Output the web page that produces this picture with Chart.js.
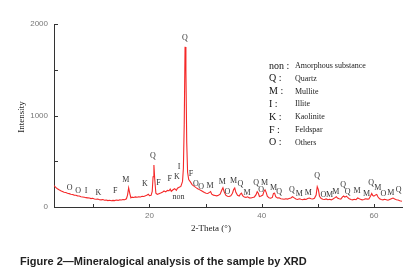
<!DOCTYPE html>
<html>
<head>
<meta charset="utf-8">
<script src="https://cdn.jsdelivr.net/npm/chart.js@4.4.1/dist/chart.umd.min.js"></script>
<style>
  html, body { margin: 0; padding: 0; background: #fff; }
  #wrap { width: 406px; height: 280px; position: relative; }
</style>
</head>
<body>
<div id="wrap"><canvas id="xrdChart" width="406" height="280"></canvas></div>
<script>
// 2-theta positions and intensity
const twoTheta = [
 3.0,3.3,3.6,3.9,4.2,4.5,4.8,5.1,5.4,5.7,6.0,6.3,6.6,6.9,7.2,7.5,7.8,8.1,8.4,8.7,
 9.0,9.3,9.6,9.9,10.2,10.5,10.8,11.1,11.4,11.7,12.0,12.3,12.6,12.9,13.2,13.5,13.8,14.1,14.4,14.7,
 15.0,15.3,15.6,15.9,16.1,16.3,16.5,16.7,16.9,17.2,17.5,17.8,18.1,18.4,18.7,19.0,19.3,19.6,19.8,20.0,
 20.3,20.5,20.65,20.8,20.95,21.15,21.4,21.7,22.0,22.3,22.6,22.9,23.2,23.5,23.7,23.9,24.2,24.5,24.8,25.0,
 25.3,25.6,25.9,26.05,26.2,26.35,26.5,26.65,26.8,27.0,27.3,27.6,28.0,28.3,28.6,28.9,29.2,29.5,29.8,30.1,
 30.4,30.7,30.9,31.1,31.4,31.7,32.0,32.3,32.6,32.9,33.1,33.3,33.6,33.9,34.2,34.5,34.8,35.0,35.2,35.4,
 35.7,36.0,36.2,36.4,36.6,36.9,37.2,37.5,37.8,38.1,38.4,38.7,39.0,39.2,39.4,39.6,39.9,40.2,40.4,40.6,
 40.8,41.0,41.3,41.6,41.9,42.1,42.3,42.5,42.8,43.1,43.4,43.7,44.0,44.3,44.6,44.9,45.2,45.5,45.8,46.1,
 46.4,46.7,47.0,47.3,47.6,47.9,48.2,48.5,48.8,49.1,49.4,49.7,49.9,50.1,50.3,50.6,50.9,51.2,51.5,51.8,
 52.1,52.4,52.7,53.0,53.3,53.5,53.8,54.1,54.4,54.6,54.8,55.1,55.3,55.6,55.9,56.2,56.5,56.8,57.1,57.3,
 57.6,57.9,58.2,58.5,58.8,59.1,59.4,59.6,59.8,60.0,60.3,60.5,60.7,61.0,61.3,61.6,61.9,62.2,62.5,62.8,
 63.1,63.4,63.7,64.0,64.3,64.6,65.0
];
const intensity = [
 235,215,200,188,178,170,162,158,150,146,140,136,130,128,122,120,112,110,106,102,
 100,98,92,95,88,85,88,80,78,82,74,76,70,74,68,72,70,76,72,78,
 76,82,80,90,130,210,150,100,108,104,110,106,112,110,118,115,122,132,140,125,
 128,170,330,460,300,150,138,145,152,160,175,165,182,178,195,172,188,200,182,205,
 215,225,280,420,900,1750,1500,700,380,300,275,245,225,212,200,190,180,170,158,150,
 148,160,168,140,130,126,122,128,140,185,210,170,130,118,115,122,150,190,208,160,
 128,120,140,152,125,110,105,112,100,98,104,110,135,168,150,115,120,130,170,188,
 160,118,100,96,105,148,152,112,98,100,90,88,85,90,86,92,98,112,100,88,
 82,90,84,80,86,82,92,98,90,88,95,130,222,190,118,92,85,82,88,80,
 84,78,88,100,112,98,90,86,110,120,108,118,106,90,82,78,84,80,98,92,
 84,78,82,90,86,88,120,148,125,118,132,138,112,90,82,78,84,80,74,82,
 90,98,88,80,76,68,62
];

// phase labels above the peaks (2-theta, intensity)
const peakText = ['O','O','I','K','F','M','K','Q','F','F','K','I','non','Q','F','O','O','M','M','O','M','Q','M','Q','O','M',
  'M','Q','Q','M','M','Q','O','M','M','Q','Q','M','M','Q','M','O','M','Q'];
const peakX = [5.8,7.3,8.7,10.9,13.9,15.8,19.2,20.6,21.6,23.6,24.9,25.3,25.2,26.3,27.4,28.3,29.2,30.8,33.0,33.9,35.0,36.2,37.4,39.0,39.9,40.5,
  42.1,43.1,45.4,46.7,48.3,49.9,51.0,52.1,53.2,54.5,55.3,57.0,58.7,59.5,60.7,61.7,63.0,64.4];
const peakY = [211,178,178,150,175,295,248,557,266,303,331,440,113,1847,357,251,222,230,277,167,284,248,150,259,186,266,
  211,160,186,142,156,339,131,131,167,240,167,175,142,259,211,139,156,186];

const legendSymbols = ['non :','Q :','M :','I :','K :','F :','O :'];
const legendNames = ['Amorphous substance','Quartz','Mullite','Illite','Kaolinite','Feldspar','Others'];

const xTicksAll = [10,20,30,40,50,60];
const yTicksAll = [500,1000,1500,2000];

const pts = twoTheta.map((t,i) => ({x:t, y:intensity[i]}));

const decorPlugin = {
  id:'decor',
  afterDraw(chart){
    const ctx = chart.ctx;
    const xs = chart.scales.x, ys = chart.scales.y;
    const ca = chart.chartArea;
    ctx.save();
    // inward tick marks
    ctx.strokeStyle = '#333';
    ctx.lineWidth = 1;
    xTicksAll.forEach(v => {
      const px = Math.round(xs.getPixelForValue(v)) + 0.5;
      ctx.beginPath(); ctx.moveTo(px, ca.bottom); ctx.lineTo(px, ca.bottom - 3); ctx.stroke();
    });
    yTicksAll.forEach(v => {
      const py = Math.round(ys.getPixelForValue(v)) + 0.5;
      ctx.beginPath(); ctx.moveTo(ca.left, py); ctx.lineTo(ca.left + 4, py); ctx.stroke();
    });
    // peak labels
    ctx.fillStyle = '#333';
    ctx.font = '8px "Liberation Serif"';
    ctx.textAlign = 'center';
    ctx.textBaseline = 'middle';
    peakText.forEach((s,i) => {
      ctx.fillText(s, xs.getPixelForValue(peakX[i]), ys.getPixelForValue(peakY[i]));
    });
    // legend of phases
    ctx.textAlign = 'left';
    legendSymbols.forEach((s,i) => {
      const y = 66 + i*12.8;
      ctx.fillStyle = '#111';
      ctx.font = '10px "Liberation Serif"';
      ctx.fillText(s, 269, y);
      ctx.fillStyle = '#222';
      ctx.font = '8px "Liberation Serif"';
      ctx.fillText(legendNames[i], 295, y);
    });
    // axis titles
    ctx.fillStyle = '#222';
    ctx.font = '9px "Liberation Serif"';
    ctx.textAlign = 'center';
    ctx.fillText('2-Theta (\u00B0)', 211, 229);
    ctx.save();
    ctx.translate(22, 117);
    ctx.rotate(-Math.PI/2);
    ctx.fillText('Intensity', 0, 0);
    ctx.restore();
    // caption
    ctx.fillStyle = '#222';
    ctx.font = 'bold 11px "Liberation Sans"';
    ctx.textAlign = 'left';
    ctx.fillText('Figure 2\u2014Mineralogical analysis of the sample by XRD', 20, 262);
    ctx.restore();
  }
};

const xrdChart = new Chart(document.getElementById('xrdChart'), {
  type:'line',
  data:{
    datasets:[{
      data: pts,
      borderColor:'rgb(245,40,40)',
      borderWidth:1.1,
      pointRadius:0,
      tension:0,
      fill:false
    }]
  },
  options:{
    responsive:false,
    animation:false,
    layout:{padding:{top:24, right:4, left:0, bottom:0}},
    plugins:{legend:{display:false}, tooltip:{enabled:false}},
    scales:{
      x:{
        type:'linear', min:3, max:65,
        grid:{display:false, tickLength:0},
        border:{display:true, color:'#333', width:1},
        ticks:{
          stepSize:10, color:'#777', padding:4, maxRotation:0,
          font:{family:'Liberation Sans', size:8},
          callback:(v) => (v===20||v===40||v===60) ? String(v) : ''
        },
        afterFit:(s) => { s.height = 73; }
      },
      y:{
        min:0, max:2000,
        grid:{display:false, tickLength:0},
        border:{display:true, color:'#333', width:1},
        ticks:{
          stepSize:500, color:'#777', padding:6,
          font:{family:'Liberation Sans', size:8},
          callback:(v) => (v%1000===0) ? String(v) : ''
        },
        afterFit:(s) => { s.width = 54; }
      }
    }
  },
  plugins:[decorPlugin]
});
</script>
</body>
</html>
